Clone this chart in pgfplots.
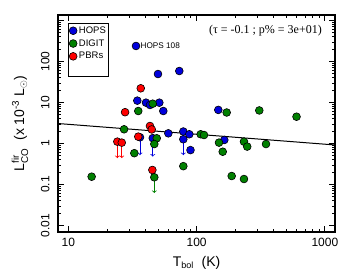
\documentclass[border=0pt]{standalone}
\usepackage{fontspec}
\usepackage{amsmath}
\setmainfont{Liberation Sans}
\newfontfamily\timesfont{Liberation Serif}
\usepackage{pgfplots}
\pgfplotsset{compat=1.18}
\definecolor{hblue}{RGB}{0,0,220}
\definecolor{dgreen}{RGB}{0,128,0}
\definecolor{pred}{RGB}{255,0,0}
\begin{document}
\begin{tikzpicture}
\useasboundingbox (-58pt,-48pt) rectangle (292pt,232pt);
\begin{axis}[
  anchor=south west, at={(0pt,0pt)},
  scale only axis, width=277pt, height=217pt,
  xmode=log, ymode=log,
  xmin=8.31, xmax=1199, ymin=0.00694, ymax=1362,
  xtick={10,100,1000}, xticklabels={10,100,1000},
  ytick={0.01,0.1,1,10,100,1000}, yticklabels={0.01,0.1,1,10,100,{}},
  tick align=inside, ticks=both,
  major tick length=6pt, minor tick length=3pt,
  every tick/.style={black, line width=0.8pt},
  axis line style={line width=1.6pt},
  /pgf/number format/assume math mode=true,
  ticklabel style={font=\fontsize{12}{14}\selectfont},
  xticklabel shift=3pt,
  yticklabel style={rotate=90, anchor=south},
  yticklabel shift=5pt,
  xlabel={T$_{\text{\fontsize{9}{10}\selectfont bol}}$\ \ (K)},
  xlabel style={font=\fontsize{14}{16}\selectfont, at={(axis description cs:0.5,-0.141)}, anchor=center},
  ylabel={L$^{\text{fir}}_{\text{CO}}$\ \ (x 10$^{\text{-3}}$ L$_\odot$)},
  ylabel style={font=\fontsize{14}{16}\selectfont, at={(axis description cs:-0.137,0.5)}, anchor=center, rotate=0},
  legend style={at={(axis description cs:0.036,0.963)}, anchor=north west,
    draw=black, line width=0.6pt, inner sep=1pt,
    font=\fontsize{9.5}{11}\selectfont, row sep=0pt,
    nodes={text height=7pt, text depth=2pt, inner sep=1.9pt}},
  legend cell align=left,
  legend image code/.code={\draw[#1, line width=0.6pt] plot[mark=*] coordinates {(0.12cm,0cm)};},
  clip=false,
]
% upper-limit arrows
\addplot[hblue, line width=0.8pt, ->, forget plot] coordinates {(36.2,1.42) (36.2,0.52)};
\addplot[hblue, line width=0.8pt, ->, forget plot] coordinates {(45.5,1.35) (45.5,0.48)};
\addplot[hblue, line width=0.8pt, ->, forget plot] coordinates {(78.8,1.27) (78.8,0.52)};
\addplot[pred, line width=0.8pt, ->, forget plot] coordinates {(24.1,1.11) (24.1,0.44)};
\addplot[pred, line width=0.8pt, ->, forget plot] coordinates {(26.1,1.05) (26.1,0.44)};
\addplot[dgreen, line width=0.8pt, ->, forget plot] coordinates {(46.8,0.15) (46.8,0.062)};
% regression
\addplot[black, line width=1pt, forget plot] coordinates {(8.31,3.07) (1199,0.92)};
% HOPS
\addplot[only marks, mark=*, mark size=3.9pt, draw=black, fill=hblue, line width=0.6pt] coordinates {
(33.7,239) (50.0,49.5) (73.3,58.6) (34.5,11.1) (40.3,9.9) (43.3,8.7) (51.2,9.9) (55.0,6.2)
(147.6,6.6) (60.2,1.77) (78.8,1.96) (87.7,1.68) (164.4,1.22) (89.6,0.69)
(36.2,1.42) (45.5,1.35) (78.8,1.27)
};
\addlegendentry{HOPS}
% DIGIT
\addplot[only marks, mark=*, mark size=3.9pt, draw=black, fill=dgreen, line width=0.6pt] coordinates {
(45.5,9.35) (35.1,6.2) (171.6,5.7) (308,6.4) (601,4.5) (27.2,2.22) (48.9,1.34) (46.8,0.97)
(32.7,0.58) (15.2,0.155) (46.8,0.15) (78.8,0.28) (107.6,1.68) (114.2,1.61) (149.5,1.05)
(159.8,0.63) (234,1.11) (248,0.84) (347.5,0.97) (187.7,0.161) (234,0.136)
};
\addlegendentry{DIGIT}
% PBRs
\addplot[only marks, mark=*, mark size=3.9pt, draw=black, fill=pred, line width=0.6pt] coordinates {
(36.7,22.2) (27.7,5.8) (43.3,2.67) (44.7,2.2) (35.1,1.47) (24.1,1.11) (26.1,1.05) (45.2,0.226)
};
\addlegendentry{PBRs}
\addlegendimage{empty legend}\addlegendentry{}
\node[anchor=west, font=\fontsize{8.2}{9}\selectfont, inner sep=0pt] at (axis cs:36.5,239) {HOPS 108};
\node[anchor=east, font=\timesfont\fontsize{12}{14}\selectfont, inner sep=0pt] at (axis description cs:0.953,0.928) {(τ = -0.1 ; p\% = 3e+01)};
\end{axis}
\end{tikzpicture}
\end{document}
